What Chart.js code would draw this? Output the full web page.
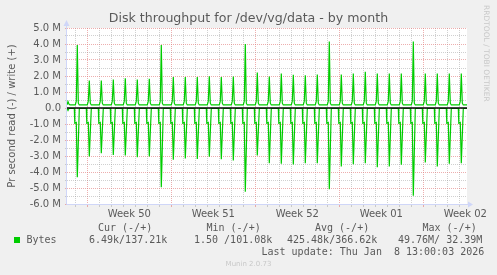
<!DOCTYPE html>
<html><head><meta charset="utf-8">
<script src="https://cdn.jsdelivr.net/npm/chart.js@4.4.1/dist/chart.umd.min.js"></script>
<style>
html,body{margin:0;padding:0;background:#F0F0F0;}
#wrap{position:relative;width:497px;height:275px;overflow:hidden;background:#F0F0F0;}
canvas{position:absolute;left:0;top:0;}
.t{position:absolute;white-space:pre;font-family:'DejaVu Sans Mono',monospace;font-size:10px;line-height:12px;color:#5a5a5a;}
#title{position:absolute;left:0;width:497px;text-align:center;top:10.5px;font-family:'DejaVu Sans',sans-serif;font-size:12.6px;line-height:14px;color:#5a5a5a;white-space:pre;}
#rrd{position:absolute;left:482px;top:5px;writing-mode:vertical-rl;font-family:'DejaVu Sans',sans-serif;font-size:7.5px;line-height:9px;color:#c8c8c8;white-space:pre;}
#munin{position:absolute;left:0;width:497px;text-align:center;top:260px;font-family:'DejaVu Sans',sans-serif;font-size:7px;line-height:9px;color:#c8c8c8;}
#sq{position:absolute;left:14px;top:237px;width:6px;height:6px;background:#00CC00;}
</style></head><body>
<div id="wrap">
<canvas id="c" width="497" height="275"></canvas>
<div id="title">Disk throughput for /dev/vg/data - by month</div>
<div id="rrd">RRDTOOL / TOBI OETIKER</div>
<div class="t" style="left:98px;top:221.5px">Cur (-/+)</div>
<div class="t" style="left:206.5px;top:221.5px">Min (-/+)</div>
<div class="t" style="left:315px;top:221.5px">Avg (-/+)</div>
<div class="t" style="left:422.5px;top:221.5px">Max (-/+)</div>
<div id="sq"></div>
<div class="t" style="left:26.5px;top:233.5px">Bytes</div>
<div class="t" style="left:89px;top:233.5px">6.49k/137.21k</div>
<div class="t" style="left:194px;top:233.5px">1.50 /101.08k</div>
<div class="t" style="left:287px;top:233.5px">425.48k/366.62k</div>
<div class="t" style="left:398px;top:233.5px">49.76M/ 32.39M</div>
<div class="t" style="left:261.5px;top:245.5px">Last update: Thu Jan  8 13:00:03 2026</div>
<div id="munin">Munin 2.0.73</div>
</div>
<script>
// ---------- data (values in M = millions of bytes per second) ----------
const START = Date.UTC(2025, 11, 6, 7, 24);   // left edge of the month window
const SPAN_HOURS = 800;                         // 400 samples x 2 h

const spikeTimes = [
 '2025-12-07T04:00','2025-12-08T04:00','2025-12-09T04:00','2025-12-10T04:00','2025-12-11T04:00',
 '2025-12-12T04:00','2025-12-13T04:00','2025-12-14T04:00','2025-12-15T04:00','2025-12-16T04:00',
 '2025-12-17T04:00','2025-12-18T04:00','2025-12-19T04:00','2025-12-20T04:00','2025-12-21T04:00',
 '2025-12-22T04:00','2025-12-23T04:00','2025-12-24T04:00','2025-12-25T04:00','2025-12-26T04:00',
 '2025-12-27T04:00','2025-12-28T04:00','2025-12-29T04:00','2025-12-30T04:00','2025-12-31T04:00',
 '2026-01-01T04:00','2026-01-02T04:00','2026-01-03T04:00','2026-01-04T04:00','2026-01-05T04:00',
 '2026-01-06T04:00','2026-01-07T04:00','2026-01-08T04:00'];

// daily write peaks (+)
const writePeak = [3.94,1.72,1.72,1.78,1.86,1.78,1.82, 3.94,1.93,1.93,1.93,1.99,1.93,1.96,
                   4.00,2.22,1.96,2.16,2.08,2.05,2.10, 4.15,2.10,2.16,2.26,2.16,2.16,2.16,
                   4.15,2.16,2.16,2.16,2.16];
// daily read peaks (-)
const readPeak  = [-4.33,-3.03,-2.82,-2.93,-2.97,-3.07,-3.03, -4.95,-3.24,-3.16,-3.18,-3.05,-3.20,-3.28,
                   -5.23,-2.97,-3.45,-3.49,-3.53,-3.45,-3.45, -5.08,-3.66,-3.51,-3.45,-3.70,-3.66,-3.55,
                   -5.48,-3.41,-3.66,-3.49,-3.45];

// shape of one daily burst (hour offsets, values; null = the day's peak)
const writeShapeHours = [-4, -2, 0, 2, 4];
const writeShapeVals  = [0.19, 0.42, null, 0.30, 0.19];
const readShapeHours  = [-6, -5, -2, 0, 4];
const readShapeVals   = [-0.03, -0.95, -0.90, null, -0.03];

// beginning of the window
const writeStartHours = [0, 2, 4, 6];
const writeStartVals  = [0.20, 0.40, 0.24, 0.19];
const readStartHours  = [0, 2, 4];
const readStartVals   = [-0.03, -0.15, -0.03];
const writeEndVal = 0.19, readEndVal = -0.03;

const weekStarts = ['2025-12-08T00:00','2025-12-15T00:00','2025-12-22T00:00','2025-12-29T00:00','2026-01-05T00:00'];
const weekLabelTimes = ['2025-12-11T12:00','2025-12-18T12:00','2025-12-25T12:00','2026-01-01T12:00','2026-01-08T12:00'];
const weekLabels = ['Week 50','Week 51','Week 52','Week 01','Week 02'];

const yMin = -6, yMax = 5;

// ---------- build ----------
const hrs = s => (Date.parse(s + ':00Z') - START) / 3600000;
const spikeH = spikeTimes.map(hrs);
const dayLines = spikeTimes.map(s => hrs(s.slice(0,10) + 'T00:00'));
const weekLines = weekStarts.map(hrs);
const labelPos = weekLabelTimes.map(hrs);

const writePts = writeStartHours.map((h,i)=>({x:h, y:writeStartVals[i]}));
const readPts = readStartHours.map((h,i)=>({x:h, y:readStartVals[i]}));
spikeH.forEach((t, d) => {
  writeShapeHours.forEach((o,i)=>writePts.push({x:t+o, y: writeShapeVals[i]===null ? writePeak[d] : writeShapeVals[i]}));
  readShapeHours.forEach((o,i)=>readPts.push({x:t+o, y: readShapeVals[i]===null ? readPeak[d] : readShapeVals[i]}));
});
writePts.push({x:SPAN_HOURS, y:writeEndVal});
readPts.push({x:SPAN_HOURS, y:readEndVal});

const near = (a, v) => a.some(p => Math.abs(p - v) < 1e-6);
const RED = 'rgba(225,120,120,0.6)', GRAY = 'rgba(150,150,150,0.45)', AXIS = '#CFD6F8';

Chart.defaults.font.family = "'DejaVu Sans', sans-serif";
Chart.defaults.font.size = 10;
Chart.defaults.color = '#5a5a5a';

const decor = {
  id:'decor',
  beforeDraw(chart){
    const {ctx, chartArea:a} = chart;
    ctx.save(); ctx.fillStyle = '#FFFFFF';
    ctx.fillRect(a.left, a.top, a.right - a.left, a.bottom - a.top);
    ctx.restore();
  },
  afterDraw(chart){
    const {ctx, chartArea:a} = chart;
    ctx.save();
    ctx.strokeStyle = AXIS; ctx.fillStyle = AXIS; ctx.lineWidth = 1;
    const lx = Math.round(a.left) - 0.5, by = Math.round(a.bottom) + 0.5;
    ctx.beginPath(); ctx.moveTo(lx, by); ctx.lineTo(lx, a.top - 4); ctx.stroke();
    ctx.beginPath(); ctx.moveTo(lx - 3, a.top - 2); ctx.lineTo(lx + 3, a.top - 2); ctx.lineTo(lx, a.top - 8); ctx.closePath(); ctx.fill();
    ctx.beginPath(); ctx.moveTo(lx, by); ctx.lineTo(a.right + 2, by); ctx.stroke();
    ctx.beginPath(); ctx.moveTo(a.right + 1, by - 3); ctx.lineTo(a.right + 1, by + 3); ctx.lineTo(a.right + 6, by); ctx.closePath(); ctx.fill();
    ctx.restore();
  }
};

new Chart(document.getElementById('c'), {
  type:'line',
  data:{datasets:[
    {label:'zero', data:[{x:0,y:0},{x:SPAN_HOURS,y:0}], borderColor:'#000000', borderWidth:1.4, order:0},
    {label:'write', data:writePts, borderColor:'#00CC00', borderWidth:1.2, order:1},
    {label:'read', data:readPts, borderColor:'#00CC00', borderWidth:1.2, order:2}
  ]},
  options:{
    responsive:false, animation:false, devicePixelRatio:1,
    elements:{point:{radius:0}, line:{tension:0}},
    layout:{padding:{left:0, top:28, right:30, bottom:51}},
    plugins:{legend:{display:false}, title:{display:false}, tooltip:{enabled:false}},
    scales:{
      x:{type:'linear', min:0, max:SPAN_HOURS,
        afterBuildTicks: s => { s.ticks = [...dayLines, ...labelPos].sort((a,b)=>a-b).map(v=>({value:v})); },
        afterFit: s => { s.height = 20; },
        ticks:{autoSkip:false, maxRotation:0, padding:1,
          callback: v => { const i = labelPos.findIndex(p => Math.abs(p - v) < 1e-6); return i >= 0 ? weekLabels[i] : ''; }},
        grid:{drawTicks:true, tickLength:3,
          color: c => near(labelPos, c.tick.value) ? 'rgba(0,0,0,0)' : (near(weekLines, c.tick.value) ? RED : GRAY),
          tickColor: c => near(labelPos, c.tick.value) ? 'rgba(0,0,0,0)' : (near(weekLines, c.tick.value) ? RED : GRAY)},
        border:{display:false, dash:[1,1]}
      },
      y:{min:yMin, max:yMax,
        afterFit: s => { s.width = 67; },
        ticks:{stepSize:0.5, autoSkip:false, padding:4,
          callback: v => Math.abs(v - Math.round(v)) > 1e-6 ? '' : (Math.round(v) === 0 ? '0.0' : v.toFixed(1) + ' M')},
        grid:{drawTicks:true, tickLength:2,
          color: c => Math.abs(c.tick.value - Math.round(c.tick.value)) > 1e-6 ? GRAY : RED,
          tickColor: c => Math.abs(c.tick.value - Math.round(c.tick.value)) > 1e-6 ? GRAY : RED},
        border:{display:false, dash:[1,1]},
        title:{display:true, text:'Pr second read (-) / write (+)', padding:{top:6,bottom:0}, font:{size:10}}
      }
    }
  },
  plugins:[decor]
});
</script>
</body></html>
